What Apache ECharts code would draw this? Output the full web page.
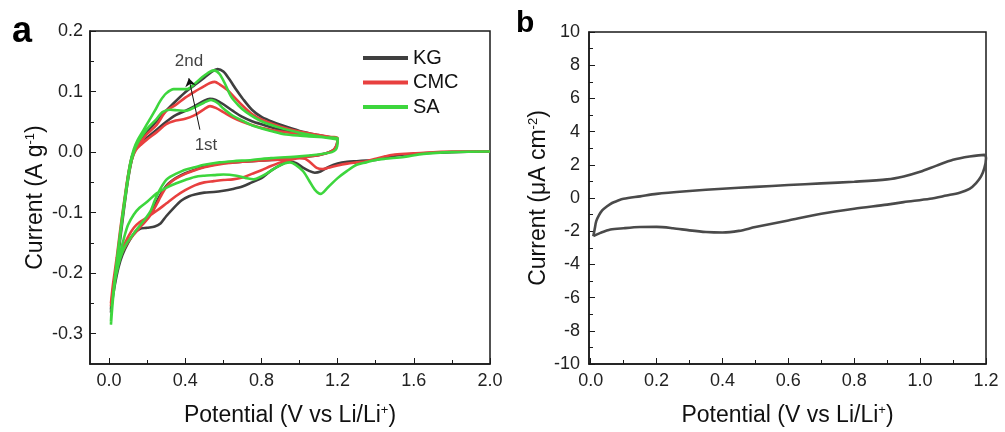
<!DOCTYPE html>
<html>
<head>
<meta charset="utf-8">
<title>CV curves</title>
<script src="https://cdn.jsdelivr.net/npm/echarts@6/dist/echarts.min.js"></script>
<style>
  html, body { margin: 0; padding: 0; background: #fff; }
  #chart { width: 1005px; height: 432px; }
</style>
</head>
<body>
<div id="chart"></div>
<script>
// panel a: [potential (V), current (A/g)], scan order 2.0 -> 0.01 -> 1.2 -> 0.01 -> 1.2
const kgCath1 = [[2.0,0.001],[1.8,0.000],[1.7,-0.001],[1.6,-0.003],[1.55,-0.004],[1.5,-0.006],[1.45,-0.009],[1.4,-0.013],[1.35,-0.014],[1.3,-0.015],[1.25,-0.016],[1.2,-0.019],[1.15,-0.025],[1.11,-0.032],[1.08,-0.034],[1.05,-0.031],[1.02,-0.026],[0.98,-0.018],[0.95,-0.016],[0.92,-0.018],[0.88,-0.025],[0.84,-0.033],[0.8,-0.043],[0.75,-0.050],[0.7,-0.057],[0.65,-0.061],[0.6,-0.064],[0.55,-0.066],[0.5,-0.067],[0.45,-0.070],[0.42,-0.073],[0.38,-0.080],[0.34,-0.092],[0.3,-0.106],[0.27,-0.118],[0.24,-0.123],[0.2,-0.125],[0.16,-0.127],[0.13,-0.135],[0.1,-0.150],[0.07,-0.170],[0.05,-0.190],[0.03,-0.220],[0.015,-0.250],[0.01,-0.265]]
const kgAnod1 = [[0.01,-0.265],[0.02,-0.235],[0.04,-0.19],[0.06,-0.14],[0.08,-0.09],[0.1,-0.045],[0.12,-0.012],[0.14,0.005],[0.17,0.015],[0.2,0.024],[0.25,0.037],[0.3,0.050],[0.35,0.061],[0.4,0.068],[0.45,0.076],[0.5,0.085],[0.53,0.088],[0.56,0.086],[0.6,0.079],[0.65,0.068],[0.7,0.058],[0.75,0.051],[0.8,0.046],[0.9,0.037],[1.0,0.031],[1.1,0.026],[1.2,0.021]]
const kgCath2 = [[1.2,0.021],[1.195,0.012],[1.185,0.006],[1.17,0.002],[1.14,-0.002],[1.1,-0.005],[1.0,-0.009],[0.9,-0.012],[0.8,-0.014],[0.7,-0.016],[0.6,-0.018],[0.5,-0.024],[0.45,-0.029],[0.4,-0.035],[0.35,-0.043],[0.32,-0.050],[0.3,-0.056],[0.28,-0.065],[0.26,-0.076],[0.24,-0.088],[0.22,-0.100],[0.19,-0.113],[0.16,-0.124],[0.13,-0.135],[0.1,-0.150],[0.07,-0.168],[0.05,-0.185],[0.03,-0.215],[0.015,-0.245],[0.01,-0.26]]
const kgAnod2 = [[0.01,-0.26],[0.02,-0.23],[0.04,-0.185],[0.06,-0.135],[0.08,-0.085],[0.1,-0.04],[0.12,-0.008],[0.14,0.008],[0.17,0.022],[0.2,0.033],[0.24,0.048],[0.28,0.062],[0.33,0.078],[0.4,0.099],[0.45,0.111],[0.5,0.123],[0.54,0.133],[0.57,0.137],[0.6,0.133],[0.63,0.121],[0.67,0.102],[0.7,0.089],[0.75,0.070],[0.8,0.058],[0.85,0.051],[0.9,0.045],[1.0,0.035],[1.1,0.028],[1.2,0.022]]

const cmcCath1 = [[2.0,0.001],[1.8,0.001],[1.6,-0.002],[1.5,-0.004],[1.45,-0.007],[1.4,-0.011],[1.35,-0.015],[1.3,-0.017],[1.25,-0.019],[1.2,-0.022],[1.15,-0.026],[1.12,-0.028],[1.09,-0.026],[1.06,-0.018],[1.03,-0.011],[1.0,-0.010],[0.95,-0.013],[0.9,-0.017],[0.85,-0.023],[0.8,-0.030],[0.75,-0.036],[0.7,-0.042],[0.65,-0.045],[0.6,-0.046],[0.55,-0.048],[0.5,-0.050],[0.45,-0.055],[0.4,-0.063],[0.35,-0.073],[0.3,-0.085],[0.25,-0.097],[0.2,-0.108],[0.16,-0.116],[0.13,-0.125],[0.1,-0.140],[0.07,-0.160],[0.05,-0.180],[0.03,-0.210],[0.015,-0.240],[0.01,-0.255]]
const cmcAnod1 = [[0.01,-0.255],[0.02,-0.225],[0.04,-0.18],[0.06,-0.13],[0.08,-0.085],[0.1,-0.042],[0.12,-0.012],[0.14,0.003],[0.17,0.013],[0.2,0.021],[0.25,0.033],[0.3,0.046],[0.35,0.052],[0.4,0.055],[0.45,0.061],[0.5,0.071],[0.53,0.076],[0.56,0.073],[0.6,0.066],[0.65,0.057],[0.7,0.050],[0.8,0.040],[0.9,0.034],[1.0,0.030],[1.1,0.026],[1.2,0.023]]
const cmcCath2 = [[1.2,0.023],[1.195,0.012],[1.185,0.006],[1.17,0.002],[1.14,-0.002],[1.1,-0.005],[1.0,-0.009],[0.9,-0.012],[0.8,-0.014],[0.7,-0.016],[0.6,-0.019],[0.5,-0.025],[0.45,-0.030],[0.4,-0.036],[0.35,-0.044],[0.32,-0.051],[0.3,-0.058],[0.28,-0.068],[0.26,-0.080],[0.24,-0.092],[0.22,-0.103],[0.19,-0.115],[0.16,-0.125],[0.13,-0.136],[0.1,-0.148],[0.07,-0.165],[0.05,-0.180],[0.03,-0.205],[0.015,-0.235],[0.01,-0.25]]
const cmcAnod2 = [[0.01,-0.25],[0.02,-0.22],[0.04,-0.175],[0.06,-0.125],[0.08,-0.08],[0.1,-0.038],[0.12,-0.008],[0.14,0.006],[0.17,0.018],[0.2,0.030],[0.25,0.045],[0.3,0.068],[0.35,0.078],[0.4,0.090],[0.45,0.100],[0.5,0.109],[0.53,0.114],[0.555,0.116],[0.58,0.112],[0.62,0.103],[0.66,0.090],[0.7,0.077],[0.75,0.063],[0.8,0.054],[0.9,0.042],[1.0,0.034],[1.1,0.028],[1.2,0.023]]

const saCath1 = [[2.0,0.001],[1.8,0.000],[1.65,-0.003],[1.55,-0.008],[1.45,-0.011],[1.4,-0.013],[1.35,-0.017],[1.3,-0.021],[1.25,-0.031],[1.2,-0.043],[1.15,-0.058],[1.11,-0.069],[1.08,-0.062],[1.05,-0.047],[1.02,-0.032],[0.98,-0.021],[0.95,-0.017],[0.92,-0.019],[0.88,-0.025],[0.84,-0.033],[0.8,-0.040],[0.76,-0.045],[0.72,-0.043],[0.67,-0.039],[0.6,-0.037],[0.55,-0.038],[0.5,-0.039],[0.45,-0.041],[0.4,-0.046],[0.35,-0.052],[0.3,-0.059],[0.25,-0.068],[0.2,-0.082],[0.16,-0.092],[0.13,-0.103],[0.1,-0.120],[0.08,-0.140],[0.06,-0.165],[0.04,-0.195],[0.025,-0.230],[0.015,-0.260],[0.01,-0.285]]
const saAnod1 = [[0.01,-0.285],[0.02,-0.245],[0.035,-0.2],[0.05,-0.16],[0.07,-0.11],[0.09,-0.065],[0.11,-0.025],[0.13,0.0],[0.15,0.015],[0.18,0.030],[0.21,0.042],[0.25,0.055],[0.28,0.066],[0.32,0.070],[0.36,0.069],[0.4,0.068],[0.45,0.074],[0.5,0.082],[0.535,0.086],[0.57,0.081],[0.6,0.072],[0.65,0.060],[0.7,0.052],[0.76,0.043],[0.85,0.035],[0.93,0.029],[1.05,0.026],[1.15,0.024],[1.2,0.023]]
const saCath2 = [[1.2,0.020],[1.198,0.010],[1.19,0.004],[1.17,0.0],[1.14,-0.002],[1.1,-0.004],[1.0,-0.007],[0.85,-0.010],[0.75,-0.013],[0.65,-0.015],[0.58,-0.017],[0.5,-0.021],[0.45,-0.025],[0.4,-0.029],[0.35,-0.036],[0.32,-0.041],[0.3,-0.046],[0.28,-0.055],[0.26,-0.066],[0.24,-0.080],[0.22,-0.096],[0.2,-0.106],[0.17,-0.118],[0.14,-0.130],[0.11,-0.143],[0.09,-0.152],[0.07,-0.165],[0.05,-0.185],[0.03,-0.215],[0.015,-0.255],[0.01,-0.28]]
const saAnod2 = [[0.01,-0.28],[0.02,-0.24],[0.035,-0.195],[0.05,-0.155],[0.07,-0.105],[0.09,-0.06],[0.11,-0.02],[0.13,0.005],[0.15,0.02],[0.18,0.036],[0.21,0.052],[0.24,0.068],[0.27,0.085],[0.3,0.097],[0.34,0.104],[0.37,0.104],[0.41,0.104],[0.45,0.113],[0.49,0.124],[0.52,0.131],[0.55,0.135],[0.58,0.129],[0.61,0.112],[0.64,0.092],[0.68,0.077],[0.72,0.066],[0.8,0.051],[0.9,0.040],[1.0,0.032],[1.1,0.026],[1.2,0.021]]

// panel b: [potential (V), current (uA/cm2)]
const bAnodic = [[0.008,-2.3],[0.012,-1.9],[0.017,-1.4],[0.025,-1.05],[0.035,-0.75],[0.05,-0.5],[0.065,-0.3],[0.08,-0.18],[0.1,-0.05],[0.15,0.1],[0.2,0.25],[0.3,0.42],[0.4,0.56],[0.5,0.67],[0.6,0.78],[0.7,0.88],[0.8,0.98],[0.9,1.12],[0.95,1.3],[1.0,1.58],[1.05,1.95],[1.1,2.3],[1.15,2.5],[1.195,2.6]]
const bCathodic = [[1.2,2.4],[1.195,1.8],[1.185,1.3],[1.17,0.9],[1.15,0.55],[1.12,0.32],[1.08,0.15],[1.03,-0.05],[0.95,-0.25],[0.9,-0.4],[0.8,-0.65],[0.7,-0.95],[0.6,-1.35],[0.5,-1.75],[0.45,-1.98],[0.4,-2.08],[0.35,-2.05],[0.3,-1.95],[0.25,-1.82],[0.2,-1.74],[0.15,-1.75],[0.1,-1.82],[0.06,-1.9],[0.03,-2.1],[0.008,-2.3]]

// tick labels
const aXTicks = [0, 0.4, 0.8, 1.2, 1.6, 2.0]
const aXMinor = [0.2, 0.6, 1.0, 1.4, 1.8]
const aYTicks = [-0.3, -0.2, -0.1, 0, 0.1, 0.2]
const aYMinor = [-0.25, -0.15, -0.05, 0.05, 0.15]
const bXTicks = [0, 0.2, 0.4, 0.6, 0.8, 1.0, 1.2]
const bXMinor = [0.1, 0.3, 0.5, 0.7, 0.9, 1.1]

// annotations in panel a
const noteLabels = [{ name: '2nd', value: [0.42, 0.150] }, { name: '1st', value: [0.509, 0.011] }]
const noteArrow = [[0.477, 0.037], [0.419, 0.122]]

const FONT = 'Liberation Sans, Arial, sans-serif'
const AXIS_COLOR = '#1a1a1a'
const colors = { KG: '#3f3f3f', CMC: '#e8403f', SA: '#3dd63d' }

const nameStyle = {
  fontFamily: FONT,
  fontSize: 23,
  color: '#111',
  rich: { sup: { fontFamily: FONT, fontSize: 13, verticalAlign: 'top', color: '#111' } }
}

function mainX (gridIndex, min, max, ticks, name, gap) {
  return {
    gridIndex: gridIndex,
    type: 'value',
    position: 'bottom',
    min: min,
    max: max,
    name: name,
    nameLocation: 'middle',
    nameGap: gap,
    nameTextStyle: nameStyle,
    splitLine: { show: false },
    axisLine: { onZero: false, lineStyle: { color: AXIS_COLOR, width: 1.5 } },
    axisTick: { inside: true, length: 6, customValues: ticks, lineStyle: { color: AXIS_COLOR } },
    axisLabel: {
      customValues: ticks,
      margin: 8,
      fontFamily: FONT,
      fontSize: 18,
      color: '#222',
      formatter: function (v) { return v.toFixed(1) }
    }
  }
}

function minorX (gridIndex, min, max, ticks) {
  return {
    gridIndex: gridIndex,
    type: 'value',
    position: 'bottom',
    min: min,
    max: max,
    splitLine: { show: false },
    axisLine: { show: false, onZero: false },
    axisTick: { inside: true, length: 4, customValues: ticks, lineStyle: { color: AXIS_COLOR } },
    axisLabel: { show: false }
  }
}

function series (name, data, xi, yi) {
  return {
    name: name,
    type: 'line',
    xAxisIndex: xi,
    yAxisIndex: yi,
    data: data,
    symbol: 'none',
    smooth: 0.3,
    animation: false,
    lineStyle: { color: colors[name] || '#4a4a4a', width: 2.6 },
    itemStyle: { color: colors[name] || '#4a4a4a' }
  }
}

const chart = echarts.init(document.getElementById('chart'))

const option = {
  animation: false,
  textStyle: { fontFamily: FONT },
  grid: [
    { left: 90, top: 31, width: 400, height: 334, show: true, borderColor: AXIS_COLOR, borderWidth: 1.5, backgroundColor: 'transparent' },
    { left: 589, top: 32, width: 397, height: 332, show: true, borderColor: AXIS_COLOR, borderWidth: 1.5, backgroundColor: 'transparent' }
  ],
  legend: {
    data: [
      { name: 'KG', icon: 'rect' },
      { name: 'CMC', icon: 'rect' },
      { name: 'SA', icon: 'rect' }
    ],
    orient: 'vertical',
    left: 358,
    top: 43,
    itemWidth: 45,
    itemHeight: 4,
    itemGap: 4.5,
    textStyle: { fontFamily: FONT, fontSize: 20, color: '#111', lineHeight: 20 }
  },
  xAxis: [
    mainX(0, -0.1, 2.0, aXTicks, 'Potential (V vs Li/Li{sup|+})', 40),
    minorX(0, -0.1, 2.0, aXMinor),
    mainX(1, -0.005, 1.2, bXTicks, 'Potential (V vs Li/Li{sup|+})', 40),
    minorX(1, -0.005, 1.2, bXMinor)
  ],
  yAxis: [
    {
      gridIndex: 0,
      type: 'value',
      position: 'left',
      min: -0.35,
      max: 0.2,
      name: 'Current (A g{sup|-1})',
      nameLocation: 'middle',
      nameGap: 43,
      nameTextStyle: nameStyle,
      splitLine: { show: false },
      axisLine: { onZero: false, lineStyle: { color: AXIS_COLOR, width: 1.5 } },
      axisTick: { inside: true, length: 6, customValues: aYTicks, lineStyle: { color: AXIS_COLOR } },
      axisLabel: {
        customValues: aYTicks,
        margin: 7,
        fontFamily: FONT,
        fontSize: 18,
        color: '#222',
        formatter: function (v) { return v.toFixed(1) }
      }
    },
    {
      gridIndex: 0,
      type: 'value',
      position: 'left',
      min: -0.35,
      max: 0.2,
      splitLine: { show: false },
      axisLine: { show: false, onZero: false },
      axisTick: { inside: true, length: 4, customValues: aYMinor, lineStyle: { color: AXIS_COLOR } },
      axisLabel: { show: false }
    },
    {
      gridIndex: 1,
      type: 'value',
      position: 'left',
      min: -10,
      max: 10,
      interval: 2,
      name: 'Current (\u03bcA cm{sup|-2})',
      nameLocation: 'middle',
      nameGap: 36,
      nameTextStyle: nameStyle,
      splitLine: { show: false },
      axisLine: { onZero: false, lineStyle: { color: AXIS_COLOR, width: 1.5 } },
      axisTick: { inside: true, length: 6, lineStyle: { color: AXIS_COLOR } },
      minorTick: { show: true, splitNumber: 2, length: 4, lineStyle: { color: AXIS_COLOR } },
      axisLabel: { margin: 9, fontFamily: FONT, fontSize: 18, color: '#222' }
    }
  ],
  graphic: [
    { type: 'text', left: 12, top: 14, style: { text: 'a', font: 'bold 36px ' + FONT, fill: '#000' } },
    { type: 'text', left: 516, top: 9, style: { text: 'b', font: 'bold 30px ' + FONT, fill: '#000' } }
  ],
  series: [
    series('KG', kgCath1.concat(kgAnod1, kgCath2, kgAnod2), 0, 0),
    series('CMC', cmcCath1.concat(cmcAnod1, cmcCath2, cmcAnod2), 0, 0),
    series('SA', saCath1.concat(saAnod1, saCath2, saAnod2), 0, 0),
    {
      name: 'notes',
      type: 'scatter',
      xAxisIndex: 0,
      yAxisIndex: 0,
      data: noteLabels,
      symbolSize: 0,
      silent: true,
      label: {
        show: true,
        position: 'inside',
        formatter: function (p) { return p.name },
        fontFamily: FONT,
        fontSize: 17,
        color: '#111'
      },
      markLine: {
        silent: true,
        symbol: ['none', 'arrow'],
        symbolSize: 8,
        label: { show: false },
        lineStyle: { color: '#111', width: 1, type: 'solid' },
        data: [[{ coord: noteArrow[0] }, { coord: noteArrow[1] }]]
      }
    },
    series('b', bAnodic.concat(bCathodic), 2, 2)
  ]
}

chart.setOption(option)
</script>
</body>
</html>
